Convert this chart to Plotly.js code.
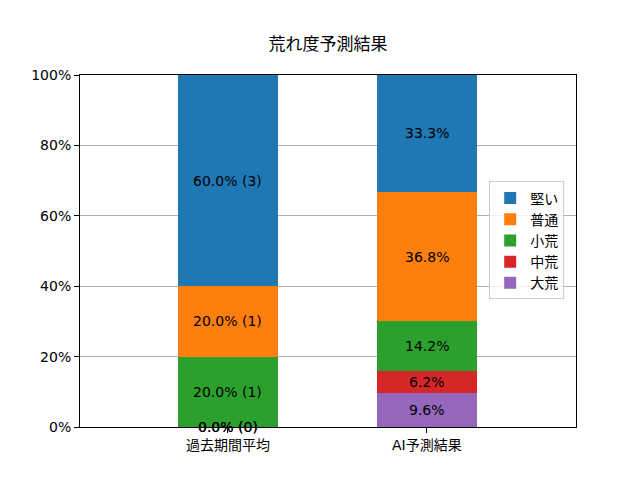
<!DOCTYPE html>
<html>
<head>
<meta charset="utf-8">
<script src="https://cdn.plot.ly/plotly-3.0.1.min.js"></script>
<style>
  html, body { margin: 0; padding: 0; background: #fff; }
  #chart { width: 640px; height: 480px; }
</style>
</head>
<body>
<div id="chart"></div>
<script>
// categories and series (bottom of the stack first)
const categories = ['過去期間平均', 'AI予測結果'];
const seriesNames = ['大荒', '中荒', '小荒', '普通', '堅い'];
const seriesColors = ['#9467bd', '#d62728', '#2ca02c', '#ff7f0e', '#1f77b4'];
const pastPct = [0, 0, 20, 20, 60];
const pastCount = [0, 0, 1, 1, 3];
const aiPct = [9.6, 6.2, 14.2, 36.8, 33.3];
const yTickVals = [0, 20, 40, 60, 80, 100];

const FONT = 'DejaVu Sans, "Noto Sans CJK JP", sans-serif';

const traces = seriesNames.map((name, i) => ({
    x: [0, 1],
    y: [pastPct[i], aiPct[i]],
    name: name,
    type: 'bar',
    width: 0.5,
    marker: { color: seriesColors[i], line: { width: 0 } },
    hoverinfo: 'skip'
}));

// labels in the middle of each segment
const annotations = [];
let basePast = 0, baseAi = 0;
seriesNames.forEach((name, i) => {
    annotations.push({
        x: 0, y: basePast + pastPct[i] / 2, xref: 'x', yref: 'y',
        text: pastPct[i].toFixed(1) + '% (' + pastCount[i] + ')',
        showarrow: false, font: { size: 14, color: '#000', family: FONT }
    });
    annotations.push({
        x: 1, y: baseAi + aiPct[i] / 2, xref: 'x', yref: 'y',
        text: aiPct[i].toFixed(1) + '%',
        showarrow: false, font: { size: 14, color: '#000', family: FONT }
    });
    basePast += pastPct[i];
    baseAi += aiPct[i];
});

const layout = {
    width: 640, height: 480,
    paper_bgcolor: '#fff', plot_bgcolor: '#fff',
    margin: { l: 80, r: 64, t: 75, b: 53 },
    font: { family: FONT, size: 14, color: '#000' },
    barmode: 'stack',
    title: { text: '荒れ度予測結果', x: 0.5, xref: 'paper', y: 0.908, yanchor: 'middle',
             font: { size: 17, color: '#000', family: FONT } },
    xaxis: {
        range: [-0.744, 1.75],
        tickvals: [0, 1], ticktext: categories,
        ticks: 'outside', ticklen: 5, tickcolor: '#000',
        showline: true, mirror: true, linecolor: '#000', linewidth: 1,
        showgrid: false, zeroline: false,
        tickfont: { size: 14, family: FONT }
    },
    yaxis: {
        range: [0, 100],
        tickvals: yTickVals, ticktext: yTickVals.map(v => v + '%'),
        ticks: 'outside', ticklen: 5, tickcolor: '#000',
        showline: true, mirror: true, linecolor: '#000', linewidth: 1,
        showgrid: true, gridcolor: '#b0b0b0', gridwidth: 1,
        zeroline: false,
        tickfont: { size: 14, family: FONT }
    },
    legend: {
        x: 0.825, xanchor: 'left', y: 0.53, yanchor: 'middle',
        traceorder: 'reversed',
        bgcolor: 'rgba(255,255,255,0.8)', bordercolor: '#cccccc', borderwidth: 1,
        font: { size: 14, family: FONT }
    },
    annotations: annotations,
    bargap: 0
};

Plotly.newPlot('chart', traces, layout, { displayModeBar: false, staticPlot: true });
</script>
</body>
</html>
